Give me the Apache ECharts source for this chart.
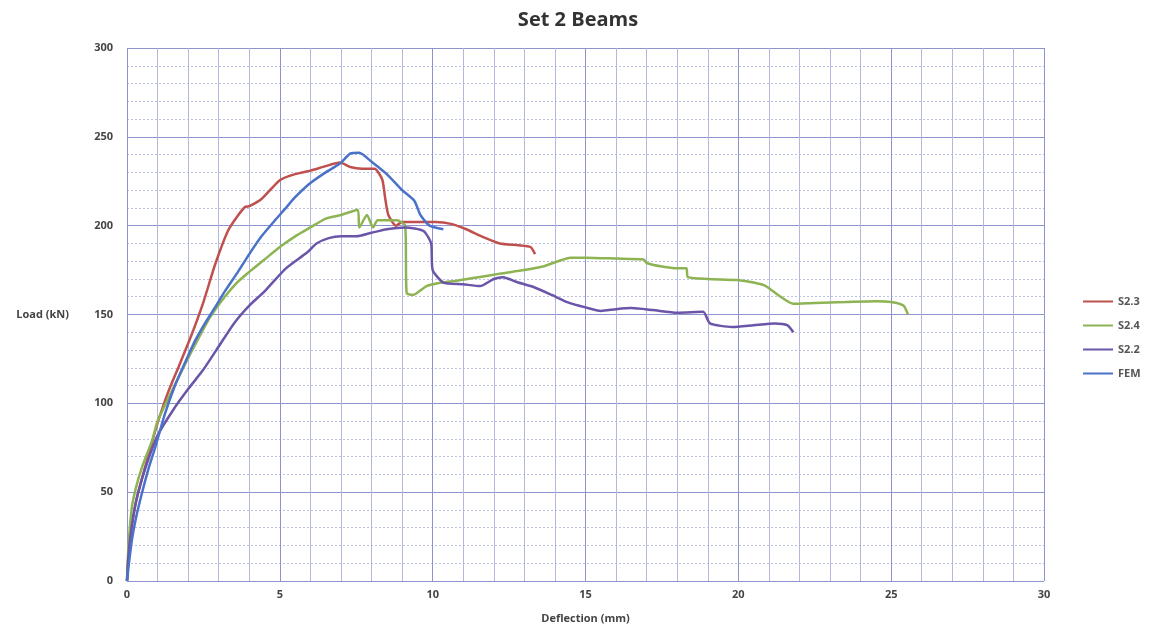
<!DOCTYPE html>
<html>
<head>
<meta charset="utf-8">
<script src="https://cdn.jsdelivr.net/npm/echarts@6/dist/echarts.min.js"></script>
<style>
  html, body { margin: 0; padding: 0; background: #fff; }
  #chart { width: 1155px; height: 630px; }
</style>
</head>
<body>
<div id="chart"></div>
<script>
// deflection (mm), load (kN) pairs
const s23 = [[0,0],[0.05,15],[0.15,30],[0.3,45],[0.59,64],[0.82,78],[1.0,89],[1.34,106],[1.7,121],[2.1,138],[2.5,157],[2.88,178],[3.3,197],[3.6,205],[3.86,210.5],[4.0,211],[4.4,215],[5.0,225.6],[5.5,229],[6.0,231],[6.5,233.5],[6.97,235.5],[7.3,233],[7.7,232],[8.1,232],[8.35,226],[8.45,215],[8.55,206],[8.8,200],[9.0,202],[9.5,202],[10.1,202],[10.6,201],[11.1,198],[11.6,194],[12.2,190],[12.8,189],[13.2,188],[13.35,184]];
const s24 = [[0,0],[0.05,20],[0.16,41.6],[0.3,53],[0.49,64],[0.82,79],[1.0,90],[1.47,107],[1.9,122],[2.32,136],[2.7,148],[3.2,160],[3.6,168],[4.0,174],[4.5,181],[5.0,188],[5.5,194],[6.0,199],[6.5,204],[7.0,206],[7.55,209],[7.6,199],[7.85,206],[8.05,199],[8.2,203],[8.83,203],[9.1,200],[9.15,162],[9.36,161],[9.8,166],[10.3,168],[10.8,169],[11.5,171],[12.2,173],[13.0,175],[13.6,177],[14.1,180],[14.5,182],[15.0,182],[16.0,181.5],[16.9,181],[17.0,179],[17.5,177],[18.0,176],[18.3,176],[18.35,171],[19.0,170],[19.95,169.4],[20.5,168],[20.9,166],[21.3,161],[21.8,156],[22.5,156.5],[23.5,157],[24.5,157.5],[25.0,157],[25.4,155],[25.55,150]];
const s22 = [[0,0],[0.05,15],[0.15,30],[0.3,45],[0.5,58],[0.75,71],[1.0,82],[1.5,96],[2.0,108],[2.5,119],[3.0,132],[3.5,145],[4.0,155],[4.5,163],[5.2,176],[5.9,185],[6.2,190],[6.6,193],[7.0,194],[7.5,194],[8.0,196],[8.5,198],[9.1,199],[9.7,197],[9.95,190],[10.0,175],[10.35,168],[11.0,167],[11.55,166],[12.0,170],[12.3,171],[12.8,168],[13.3,165.5],[13.9,161],[14.4,157],[15.0,154],[15.5,152],[16.0,153],[16.5,153.6],[17.2,152.5],[18.0,151],[18.85,151.5],[19.07,145],[19.8,143],[20.5,144],[21.2,145],[21.6,144],[21.8,140]];
const fem = [[0,0],[0.05,8],[0.16,23],[0.3,36],[0.49,49.5],[0.7,63],[0.92,75],[1.24,94],[1.57,110],[1.9,123],[2.22,135],[2.55,145],[2.88,154],[3.2,163],[3.63,174],[4.0,184],[4.4,194],[4.84,203],[5.2,210],[5.5,216],[6.0,224],[6.5,230],[6.97,235],[7.3,240.5],[7.6,241],[8.0,236],[8.5,229],[9.0,220],[9.4,214],[9.6,206],[9.9,200],[10.35,198]];

const names = ["S2.3", "S2.4", "S2.2", "FEM"];
const colors = ["#c0504d", "#8db352", "#6a55a8", "#4a72c8"];
const xTicks = [0, 5, 10, 15, 20, 25, 30];
const yTicks = [0, 50, 100, 150, 200, 250, 300];

const font = "'Open Sans', 'DejaVu Sans', sans-serif";
const chart = echarts.init(document.getElementById("chart"));

function mkSeries(name, data, color) {
  return {
    name, type: "line", data, showSymbol: false, smooth: 0.2,
    lineStyle: { color, width: 2.5 }, itemStyle: { color },
  };
}

chart.setOption({
  animation: false,
  title: {
    text: "Set 2 Beams", left: 573, top: 5, textAlign: "center",
    textStyle: { fontFamily: font, fontSize: 20, fontWeight: "bold", color: "#333" },
  },
  legend: {
    orient: "vertical", left: 1078, top: 291, itemGap: 13,
    itemWidth: 30, itemHeight: 2, icon: "rect",
    data: names,
    textStyle: { fontFamily: font, fontSize: 11, fontWeight: "bold", color: "#555" },
  },
  grid: { left: 127, right: 111, top: 48, bottom: 49 },
  xAxis: {
    type: "value", min: xTicks[0], max: xTicks[xTicks.length - 1], interval: 5,
    name: "Deflection (mm)", nameLocation: "middle", nameGap: 32,
    nameTextStyle: { fontFamily: font, fontSize: 11, fontWeight: "bold", color: "#444" },
    axisLine: { show: false }, axisTick: { show: false },
    axisLabel: { fontFamily: font, fontSize: 11, fontWeight: "bold", color: "#444", margin: 8 },
    splitLine: { lineStyle: { color: "#8d93cc", width: 1 } },
    minorTick: { show: false, splitNumber: 5 },
    minorSplitLine: { show: true, lineStyle: { color: "#b3b8e0", width: 1 } },
  },
  yAxis: {
    type: "value", min: yTicks[0], max: yTicks[yTicks.length - 1], interval: 50,
    name: "Load (kN)", nameLocation: "middle", nameRotate: 0, nameGap: 58,
    nameTextStyle: { fontFamily: font, fontSize: 11, fontWeight: "bold", color: "#444", padding: [22, 0, 0, 0] },
    axisLine: { show: false }, axisTick: { show: false },
    axisLabel: { fontFamily: font, fontSize: 11, fontWeight: "bold", color: "#444", margin: 14 },
    splitLine: { lineStyle: { color: "#8d93cc", width: 1 } },
    minorTick: { show: false, splitNumber: 5 },
    minorSplitLine: { show: true, lineStyle: { color: "#bcc0e4", width: 1, type: [2, 2] } },
  },
  series: [
    mkSeries(names[0], s23, colors[0]),
    mkSeries(names[1], s24, colors[1]),
    mkSeries(names[2], s22, colors[2]),
    mkSeries(names[3], fem, colors[3]),
  ],
});
</script>
</body>
</html>
